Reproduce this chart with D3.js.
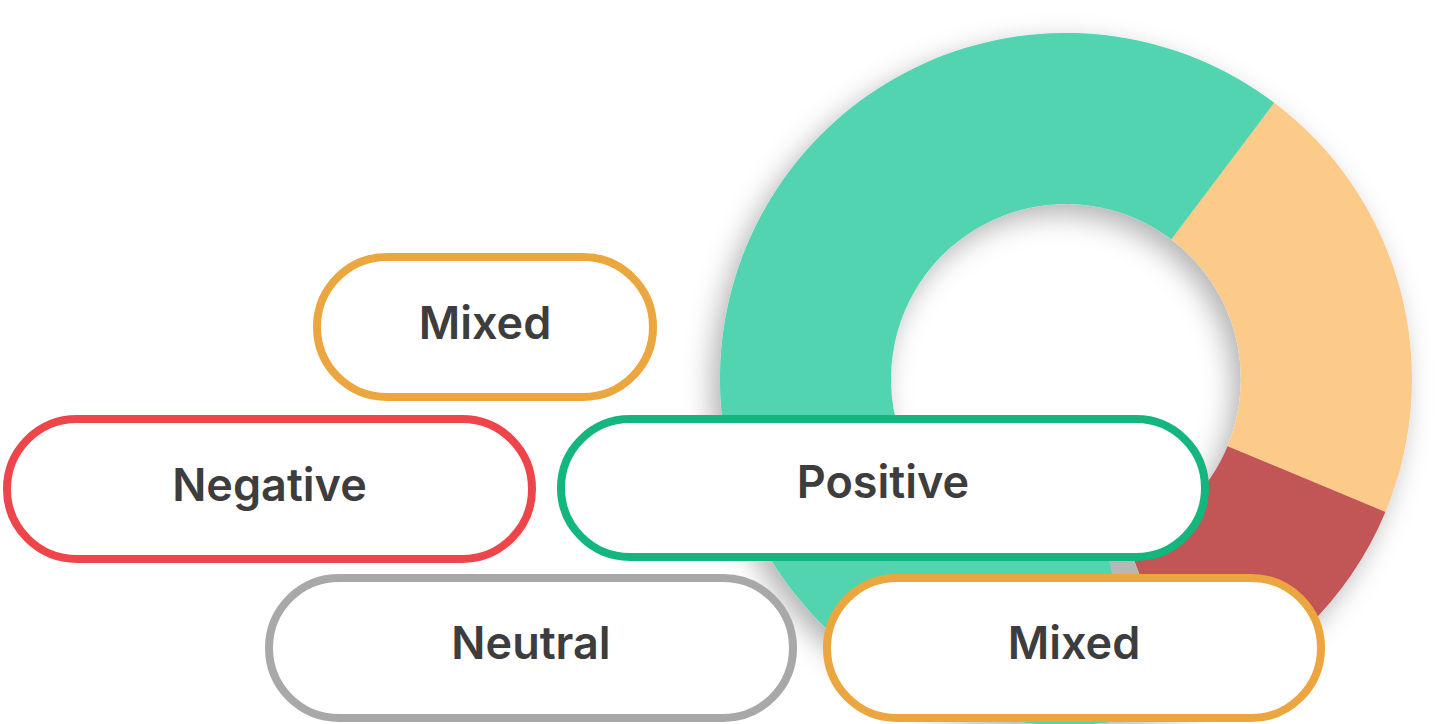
<!DOCTYPE html>
<html>
<head>
<meta charset="utf-8">
<script src="https://cdn.jsdelivr.net/npm/d3@7"></script>
<style>
  body { margin: 0; background: #fff; }
  text { font-family: Inter, "Open Sans", sans-serif; font-weight: 600; }
</style>
</head>
<body>
<div id="chart"></div>
<script>
// sentiment share (percent) shown in the donut
const categories = ["Mixed", "Negative", "Neutral", "Positive"];
const shares = [21, 13, 2, 64];
const sliceColors = ["#fccb8a", "#c25454", "#b7b7b7", "#53d4b1"];

// tag pills, in drawing order
const pillLabels = ["Mixed", "Negative", "Positive", "Neutral", "Mixed"];
const pillColors = ["#eca63f", "#ee454b", "#14b67e", "#a8a8a8", "#eca63f"];

const width = 1443, height = 724;

const svg = d3.select("#chart")
  .append("svg")
    .attr("width", width)
    .attr("height", height);

const defs = svg.append("defs");
const shadow = defs.append("filter")
    .attr("id", "ringShadow")
    .attr("x", "-30%").attr("y", "-30%")
    .attr("width", "160%").attr("height", "160%");
shadow.append("feDropShadow")
    .attr("dx", -8)
    .attr("dy", 10)
    .attr("stdDeviation", 14)
    .attr("flood-color", "#000")
    .attr("flood-opacity", 0.3);

// donut
const cx = 1066, cy = 379, outerR = 346, innerR = 175;
const start = 37 * Math.PI / 180;

const pie = d3.pie().sort(null).startAngle(start).endAngle(start + 2 * Math.PI);
const arc = d3.arc().innerRadius(innerR).outerRadius(outerR);

const ring = svg.append("g")
    .attr("transform", `translate(${cx}, ${cy})`)
    .attr("filter", "url(#ringShadow)");

ring.selectAll("path")
  .data(pie(shares))
  .enter()
  .append("path")
    .attr("d", arc)
    .attr("fill", (d, i) => sliceColors[i]);

// pill boxes (stroke-centre coordinates)
const pillBoxes = [
  {x: 317, y: 257, w: 336, h: 140, base: 339},
  {x: 7,   y: 419, w: 525, h: 140, base: 501},
  {x: 561, y: 419, w: 644, h: 138, base: 498},
  {x: 269, y: 578, w: 524, h: 140, base: 659},
  {x: 827, y: 578, w: 494, h: 140, base: 659}
];

const pills = svg.selectAll("g.pill")
  .data(pillLabels.map((label, i) => ({label, color: pillColors[i], box: pillBoxes[i]})))
  .enter()
  .append("g")
    .attr("class", "pill");

pills.append("rect")
    .attr("x", d => d.box.x)
    .attr("y", d => d.box.y)
    .attr("width", d => d.box.w)
    .attr("height", d => d.box.h)
    .attr("rx", d => d.box.h / 2)
    .attr("fill", "#fff")
    .attr("stroke", d => d.color)
    .attr("stroke-width", 8);

pills.append("text")
    .attr("x", d => d.box.x + d.box.w / 2)
    .attr("y", d => d.box.base)
    .attr("text-anchor", "middle")
    .attr("fill", "#3d3d3d")
    .attr("font-size", 45)
    .text(d => d.label);
</script>
</body>
</html>
